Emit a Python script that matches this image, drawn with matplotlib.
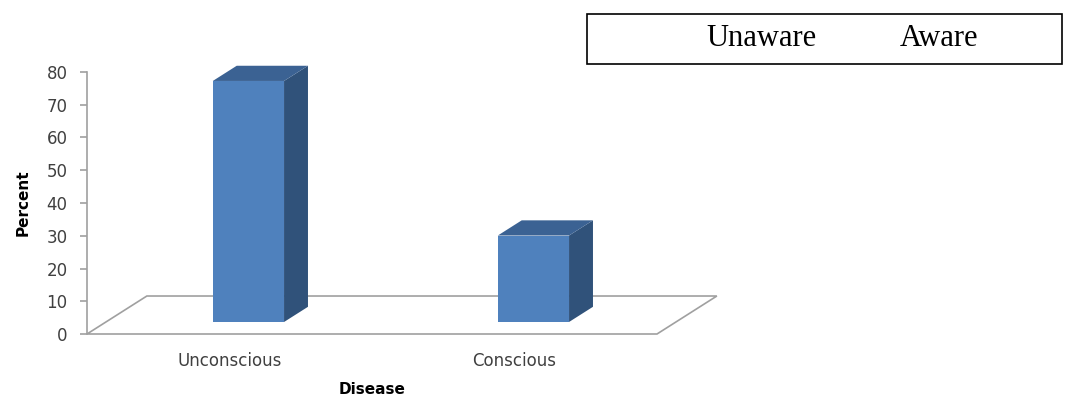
import matplotlib.pyplot as plt
from matplotlib.patches import Polygon, Rectangle

# Awareness of the disease type, percent
categories = ['Unconscious', 'Conscious']
percent = [73.6, 26.4]
yticks = [0, 10, 20, 30, 40, 50, 60, 70, 80]
legend_labels = ['Unaware', 'Aware']

front_col = '#4F81BD'
side_col = '#30527A'
top_col = '#3B6293'
grid_col = '#A0A0A0'
text_col = '#404040'

# 3D-look geometry in data units (one category = 1.0 wide)
depth_x, depth_y = 0.21, 11.6      # floor depth offset
bar_w = 0.25
bar_front = 0.316                  # bar front face position along depth
bar_depth = 0.40                   # bar thickness along depth

fig = plt.figure(figsize=(10.7, 4.03), dpi=100)
ax = fig.add_axes([87 / 1070, 69 / 403, 633 / 1070, 262 / 403])
ax.set_xlim(0, 633 / 285)
ax.set_ylim(0, 80)

# floor
n = len(categories)
floor = Polygon([(0, 0), (n, 0), (n + depth_x, depth_y), (depth_x, depth_y)],
                closed=True, facecolor='white', edgecolor=grid_col, lw=1.2, clip_on=False, zorder=1)
ax.add_patch(floor)

for i, v in enumerate(percent):
    x0 = i + 0.5 - bar_w / 2 + bar_front * depth_x
    y0 = bar_front * depth_y
    dx, dy = bar_depth * depth_x, bar_depth * depth_y
    ax.add_patch(Rectangle((x0, y0), bar_w, v, facecolor=front_col, edgecolor='none', clip_on=False, zorder=3))
    side = [(x0 + bar_w, y0), (x0 + bar_w + dx, y0 + dy), (x0 + bar_w + dx, y0 + v + dy), (x0 + bar_w, y0 + v)]
    ax.add_patch(Polygon(side, closed=True, facecolor=side_col, edgecolor='none', clip_on=False, zorder=3))
    top = [(x0, y0 + v), (x0 + bar_w, y0 + v), (x0 + bar_w + dx, y0 + v + dy), (x0 + dx, y0 + v + dy)]
    ax.add_patch(Polygon(top, closed=True, facecolor=top_col, edgecolor='none', clip_on=False, zorder=3))
    ax.text(i + 0.5, -8.2, categories[i], ha='center', va='center',
            fontsize=12, color=text_col, family='DejaVu Sans')

for s in ['top', 'right', 'bottom']:
    ax.spines[s].set_visible(False)
ax.spines['left'].set_color(grid_col)
ax.spines['left'].set_linewidth(1.2)
ax.set_xticks([])
ax.set_yticks(yticks)
ax.set_yticklabels([str(t) for t in yticks], fontsize=12, color=text_col, family='DejaVu Sans')
ax.tick_params(axis='y', length=5, color=grid_col, width=1.2, pad=9)

fig.text(23 / 1070, 1 - 203 / 403, 'Percent', rotation=90, ha='center', va='center',
         fontsize=11, fontweight='bold', color='black', family='DejaVu Sans')
fig.text(372 / 1070, 1 - 390 / 403, 'Disease', ha='center', va='center',
         fontsize=11, fontweight='bold', color='black', family='DejaVu Sans')

# legend box
fig.patches.append(Rectangle((587 / 1070, 1 - 64 / 403), 475 / 1070, 50 / 403, transform=fig.transFigure,
                             facecolor='white', edgecolor='black', lw=1.2))
fig.text(761.5 / 1070, 1 - 38 / 403, legend_labels[0], ha='center', va='center', fontsize=22, family='Liberation Serif')
fig.text(938.5 / 1070, 1 - 38 / 403, legend_labels[1], ha='center', va='center', fontsize=22, family='Liberation Serif')

fig.savefig('out.png', dpi=100)
